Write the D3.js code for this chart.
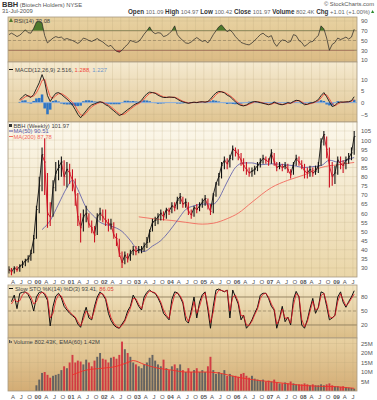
<!DOCTYPE html>
<html>
<head>
<meta charset="utf-8">
<script src="https://d3js.org/d3.v7.min.js"></script>
<style>
  body { margin: 0; background: #fff; }
  svg { display: block; }
</style>
</head>
<body>
<script>
// monthly readings, Feb 1999 .. Jul 2009
const firstMonth = new Date(1999, 1, 1);
const closes = [29,28,30,29,31,32,34,35,38,46, 62,75,92,88,60,58,74,82,85,88, 80,84,82,78,70,58,52,58,60,54, 52,48,58,60,58,56,54,54,48,46,
  38,33,37,35,38,40,39,40,40,42, 44,50,55,56,58,60,58,62,61,64, 63,67,69,65,66,61,59,63,62,64, 66,68,64,61,70,76,80,86,89,87,
  90,95,94,92,89,86,84,82,83,84, 86,88,90,89,88,93,88,85,86,85, 86,84,81,87,90,88,86,83,82,84, 82,83,86,99,103,95,86,80,82,89,
  87,86,89,90,93,101.97];
const highs = [31,30,31,31,32,34,35,37,40,48, 64,80,96,101,82,66,78,88,89,91, 89,88,87,84,79,71,60,62,64,60, 56,53,60,63,62,62,57,57,55,49,
  46,39,39,38,40,42,42,42,42,44, 47,51,57,58,60,62,61,63,63,66, 66,69,71,69,68,66,62,64,65,66, 68,70,68,65,71,77,82,88,91,90,
  92,97,96,95,93,90,88,85,85,86, 88,90,92,91,90,95,93,88,88,87, 88,87,84,88,92,91,89,87,85,86, 85,86,88,101,105,102,96,88,86,91,
  91,89,91,93,96,104.97];
const lows = [27,26,27,28,28,30,31,33,34,38, 46,60,72,70,52,53,58,72,78,80, 75,74,76,72,64,53,44,50,55,52, 49,44,48,56,55,53,50,51,46,42,
  36,30,32,33,34,37,37,38,38,39, 41,44,50,53,54,56,56,57,59,60, 61,62,65,63,63,59,57,58,60,61, 63,64,62,59,60,69,75,79,84,84,
  85,89,91,89,86,83,81,80,80,81, 83,85,87,87,86,87,86,83,84,83, 84,82,79,81,86,86,84,79,79,80, 80,81,82,86,97,90,74,75,76,81,
  84,82,84,87,89,92];

const ma50Dates = ['2000-02','2000-05','2000-08','2000-11','2001-01','2001-03','2001-06','2001-09','2001-11','2002-03','2002-07','2002-10','2002-12',
  '2003-03','2003-06','2003-09','2003-12','2004-03','2004-06','2004-09','2005-01','2005-04','2005-06','2005-08','2005-10','2005-12',
  '2006-03','2006-06','2006-09','2007-01','2007-06','2007-09','2008-01','2008-04','2008-07','2008-10','2009-01','2009-04','2009-07'];
const ma50 = [51,56,65,74,78,73,63,58,55,53,50,45,41, 39,42,45,50,56,62,64,65,65,68,74,80,85, 87.5,87.5,86.5,87,86.5,86,85,85.5,86,89,88,89,90.51];
const ma200Dates = ['2003-01','2003-06','2004-01','2004-06','2004-12','2005-04','2005-09','2006-01','2006-06','2007-01','2007-07','2008-01','2008-07','2009-01','2009-07'];
const ma200 = [58,57,56,55,54,54.5,57,60,66,74,78,81,85,86.5,87.78];

const rsi = [62,65,62,58,61,66,72,66,65,75, 88,90,86,60,45,50,55,58,56,57, 52,54,52,50,47,44,48,55,53,50, 48,51,54,50,47,42,38,40,33,28,
  26,30,37,42,50,48,46,48,55,63, 70,78,68,64,66,65,58,60,64,70, 80,62,55,50,45,44,47,52,56,52, 48,50,45,52,62,70,78,82,75,68,
  72,66,58,52,46,44,42,41,45,50, 56,62,65,60,57,60,45,38,46,51, 50,46,48,62,60,50,46,38,42,47, 48,55,60,80,74,55,30,42,46,55,
  52,54,57,53,57,73.08];

const macd = [null,null,null,null,1.3,2.5,3.5,2.8,2.2,3.5, 6,8.5,12,9,3,0.5,2.5,4,4.3,3.5, 2.5,1.5,0.4,-1,-3,-5,-6.5,-5,-3.5,-2,
  -1,-0.5,0,0.4,0,-0.9,-1.5,-2.5,-3.5,-4.5, -5.5,-5,-4,-3,-2.2,-1.2,-0.5,0,1,2.5, 3.8,4.5,4.3,4,3.2,2.6,2.2,2.2,2.4,2.3,
  2.2,1.5,0.8,0.3,0,-0.3,0,0.2,0,0.3, 0.4,0.2,0.5,1.5,3,4.2,4.8,4.6,4.2,3.2, 2.6,1.5,0.3,-0.7,-1.2,-1.4,-1,-0.3,0.2,0.5,
  0.3,0,-0.3,-0.6,-0.9,-0.5,0.2,-0.3,-0.8,-0.9, -0.5,0,-0.3,0.5,1,0.8,0,-0.9,-0.7,-0.2, 0,0.5,1.3,3,4.3,2.5,0.4,-1.7,-1.2,0,
  0.3,0.2,0.3,0.4,0.8,2.516];
const signal = [null,null,null,null,1,1.6,2.5,3,2.6,2.8, 4.2,6.5,9.5,10,6,2.5,1.8,3,3.8,3.9, 3.2,2.3,1.2,0.1,-1.5,-3.5,-5.2,-5.6,-4.5,-3,
  -1.8,-1,-0.4,0.1,0.2,-0.4,-1,-1.8,-2.8,-3.8, -4.8,-5.2,-4.8,-3.8,-2.8,-1.9,-1,-0.4,0.4,1.5, 2.9,3.9,4.3,4.2,3.7,3,2.5,2.3,2.3,2.3,
  2.3,1.9,1.2,0.6,0.2,-0.1,-0.1,0.1,0.1,0.2, 0.3,0.3,0.4,0.9,2,3.4,4.3,4.7,4.4,3.8, 3,2.1,1,-0.1,-0.8,-1.2,-1.2,-0.7,-0.2,0.3,
  0.4,0.2,-0.1,-0.4,-0.7,-0.7,-0.2,-0.1,-0.5,-0.8, -0.7,-0.3,-0.2,0.1,0.7,0.9,0.4,-0.4,-0.8,-0.5, -0.2,0.2,0.8,2,3.6,3.3,1.6,-0.5,-1.4,-0.6,
  0,0.2,0.3,0.3,0.6,1.288];
const hist = [null,null,null,null,0.3,0.9,1,-0.2,-0.4,0.7, 1.8,2,3.5,-2.5,-5,-3,0.7,1,0.5,-0.4, -0.7,-0.8,-0.8,-1.1,-1.5,-1.5,-1.3,0.6,1,1,
  0.8,0.5,0.4,0.3,-0.2,-0.5,-0.5,-0.7,-0.7,-0.7, -0.7,0.2,0.8,0.8,0.6,0.7,0.5,0.4,0.6,1, 0.9,0.6,0,-0.2,-0.5,-0.4,-0.3,-0.1,0.1,0,
  -0.1,-0.4,-0.4,-0.3,-0.2,-0.2,0.1,0.1,-0.1,0.1, 0.1,-0.1,0.1,0.6,1,0.8,0.5,-0.1,-0.2,-0.6, -0.4,-0.6,-0.7,-0.6,-0.4,-0.2,0.2,0.4,0.4,0.2,
  -0.1,-0.2,-0.2,-0.2,-0.2,0.2,0.4,-0.2,-0.3,-0.1, 0.2,0.3,-0.1,0.4,0.3,-0.1,-0.4,-0.5,0.1,0.3, 0.2,0.3,0.5,1,0.7,-0.8,-1.2,-1.2,0.2,0.6,
  0.3,0,0,0.1,0.2,1.227];

const stochK = [null,70,84,55,88,90,91,85,73,50, 80,90,91,85,73,18,60,82,88,78, 60,52,45,40,35,22,15,40,58,35, 31,60,80,91,85,75,45,30,20,15,
  13,22,31,50,60,84,73,60,52,80, 90,95,90,88,78,65,45,38,31,75, 91,89,80,67,30,24,50,80,35,69, 85,91,52,13,60,95,97,94,91,95,
  35,95,80,65,31,41,13,20,31,45, 58,84,88,88,77,60,52,13,35,60, 27,37,20,75,92,80,20,13,31,55, 77,45,58,91,88,60,31,35,41,80,
  91,69,58,70,80,93.41];
const stochD = [null,65,75,70,72,85,90,88,80,65, 70,85,90,88,78,35,45,72,85,82, 68,56,48,42,37,27,18,32,50,42, 33,52,74,87,87,78,55,36,24,17,
  14,19,28,43,56,77,76,64,55,72, 86,93,91,89,81,69,52,41,34,63, 85,89,83,71,40,27,42,70,45,60, 80,89,60,25,48,85,95,94,92,94,
  50,80,84,70,40,40,20,19,28,42, 54,77,86,88,80,65,54,22,32,54, 34,36,24,62,87,82,32,16,27,49, 71,52,56,83,88,67,38,35,40,70,
  87,74,61,67,77,86.05];

// volume in millions (typical weekly bar of the month)
const volume = [null,null,null,null,null,null,null,null,null,null, 3,6,9.5,10,8.5,7,8,8.5,9,11, 13,12,15,19,15,16,15.5,14,16.5,15,
  13,16,18,20,17,16.5,15,17.5,18,17, 19,26,22,20,18,15,14,13,12,14, 15,17.5,19,16,14,13,16.5,12,11,13, 14,12,14,11,10,12,10,11,12,10,
  11,10,13,18,11,9,10,9,11,8, 9,8,8,7.5,9,9.5,8,7,8,6.5, 6,5.5,6,5,5.5,5,6,4.5,4,4, 4.5,4,5,4,3.5,3.5,3.5,4,3.5,3,
  3.5,3,3,3.5,3,3.5,4,3,2.5,2.5, 2.2,2.5,2,1.8,1.6,1.2];
const volEmaDates = ['2001-01','2001-06','2001-12','2002-05','2002-09','2002-11','2003-03','2003-08','2004-01','2004-06','2005-01','2005-06',
  '2005-12','2006-06','2006-12','2007-06','2007-12','2008-06','2008-12','2009-04','2009-07'];
const volEma = [8.5,11,12,13,15,16,14,12,11,10,10,9.5,7.5,6,5,4,3,2.5,2.3,1.8,1.42];

const priceTicks = [30,35,40,45,50,55,60,65,70,75,80,85,90,95,100,105];
const rsiTicks = [10,30,50,70,90];
const macdTicks = [-5,0,5,10];
const stochTicks = [20,50,80];
const volTicks = [5,10,15,20,25];

const W = 377, H = 400, L = 8, R = 357;
const font = '"Liberation Sans", Arial, sans-serif';
const parseMonth = d3.timeParse('%Y-%m');
const dates = closes.map((_, i) => d3.timeDay.offset(d3.timeMonth.offset(firstMonth, i), 14));
const asMid = s => d3.timeDay.offset(parseMonth(s), 14);

const x = d3.scaleTime().domain([new Date(1999, 1, 5), new Date(2009, 7, 15)]).range([L, R]);
const step = x(dates[1]) - x(dates[0]);
const quarters = d3.timeMonth.every(3).range(x.domain()[0], x.domain()[1]);

const svg = d3.select('body').append('svg').attr('width', W).attr('height', H).style('font-family', font);
const defs = svg.append('defs');

function grad(id, c0, c1) {
  const g = defs.append('linearGradient').attr('id', id).attr('x1', 0).attr('y1', 0).attr('x2', 0).attr('y2', 1);
  g.append('stop').attr('offset', '0%').attr('stop-color', c0);
  g.append('stop').attr('offset', '100%').attr('stop-color', c1);
}

function makePanel(name, top, bottom, domain, ticks, fmt, c0, c1) {
  grad('g-' + name, c0, c1);
  defs.append('clipPath').attr('id', 'c-' + name).append('rect')
    .attr('x', L).attr('y', top).attr('width', R - L).attr('height', bottom - top);
  const y = d3.scaleLinear().domain(domain).range([bottom, top]);
  const bg = svg.append('g');
  bg.append('rect').attr('x', L).attr('y', top).attr('width', R - L).attr('height', bottom - top)
    .attr('fill', `url(#g-${name})`);
  bg.selectAll('.vg').data(quarters).join('line')
    .attr('x1', d => x(d)).attr('x2', d => x(d)).attr('y1', top).attr('y2', bottom)
    .attr('stroke', '#b8a27a').attr('stroke-opacity', 0.35).attr('stroke-width', 0.6);
  bg.selectAll('.hg').data(ticks).join('line')
    .attr('x1', L).attr('x2', R).attr('y1', d => y(d)).attr('y2', d => y(d))
    .attr('stroke', '#b8a27a').attr('stroke-opacity', 0.35).attr('stroke-width', 0.6);
  const plot = svg.append('g').attr('clip-path', `url(#c-${name})`);
  const ax = svg.append('g').attr('transform', `translate(${R + 2},0)`)
    .call(d3.axisRight(y).tickValues(ticks).tickSize(0).tickPadding(2).tickFormat(fmt));
  ax.select('.domain').remove();
  ax.selectAll('text').attr('font-size', 6).attr('fill', '#555').attr('font-family', font);
  const frame = () => svg.append('rect').attr('x', L).attr('y', top).attr('width', R - L).attr('height', bottom - top)
    .attr('fill', 'none').attr('stroke', '#a89a80').attr('stroke-width', 0.8);
  return { y, plot, top, bottom, frame };
}

function legend(items, px, py) {
  const t = svg.append('text').attr('x', px).attr('y', py).attr('font-size', 5.8).attr('fill', '#444');
  items.forEach(([s, c]) => t.append('tspan').attr('fill', c).text(s));
  return t;
}

const lineOf = (y, vals) => d3.line().defined(d => d != null)
  .x((d, i) => x(dates[i])).y(d => y(d))(vals);

// ---------- header ----------
const h1 = svg.append('text').attr('x', 2).attr('y', 6.5).attr('fill', '#333');
h1.append('tspan').attr('font-size', 7.5).attr('font-weight', 'bold').text('BBH');
h1.append('tspan').attr('font-size', 5.8).attr('fill', '#555').text(' (Biotech Holders) NYSE');
svg.append('text').attr('x', 2).attr('y', 13).attr('font-size', 5.8).attr('fill', '#555').text('31-Jul-2009');
svg.append('text').attr('x', 374).attr('y', 6).attr('text-anchor', 'end').attr('font-size', 5.8).attr('fill', '#555')
  .text('© StockCharts.com');
const stats = [['Open', '101.09'], ['High', '104.97'], ['Low', '100.42'], ['Close', '101.97'], ['Volume', '802.4K'], ['Chg', '+1.01 (+1.00%)']];
const st = svg.append('text').attr('x', 370).attr('y', 13.5).attr('text-anchor', 'end').attr('font-size', 5.8).attr('fill', '#333');
stats.forEach(([k, v], i) => {
  st.append('tspan').attr('font-weight', 'bold').attr('font-size', 6.3).text((i ? ' ' : '') + k);
  st.append('tspan').attr('fill', '#666').text(' ' + v);
});
svg.append('path').attr('d', 'M371,13 l1.6,-3 l1.6,3 z').attr('fill', '#2e8b2e');

// ---------- RSI ----------
const pR = makePanel('rsi', 17, 62, [5.9, 98.2], rsiTicks, d3.format('d'), '#e8d2a2', '#dbbb84');
defs.append('clipPath').attr('id', 'rsiHi').append('rect').attr('x', L).attr('y', pR.top).attr('width', R - L).attr('height', pR.y(70) - pR.top);
defs.append('clipPath').attr('id', 'rsiLo').append('rect').attr('x', L).attr('y', pR.y(30)).attr('width', R - L).attr('height', pR.bottom - pR.y(30));
[70, 30].forEach(v => pR.plot.append('line').attr('x1', L).attr('x2', R).attr('y1', pR.y(v)).attr('y2', pR.y(v))
  .attr('stroke', '#8c7a5c').attr('stroke-width', 0.8));
pR.plot.append('line').attr('x1', L).attr('x2', R).attr('y1', pR.y(50)).attr('y2', pR.y(50))
  .attr('stroke', '#8c7a5c').attr('stroke-width', 0.6).attr('stroke-dasharray', '3,2');
const rsiArea = base => d3.area().x((d, i) => x(dates[i])).y0(pR.y(base)).y1(d => pR.y(d));
pR.plot.append('path').attr('clip-path', 'url(#rsiHi)').attr('d', rsiArea(70)(rsi)).attr('fill', '#4f7a2c');
pR.plot.append('path').attr('clip-path', 'url(#rsiLo)').attr('d', rsiArea(30)(rsi)).attr('fill', '#c0303a');
pR.plot.append('path').attr('d', lineOf(pR.y, rsi)).attr('fill', 'none').attr('stroke', '#222').attr('stroke-width', 0.7);
pR.frame();
svg.append('path').attr('d', 'M9,22 l2,-4 l2,4 z').attr('fill', '#4f7a2c');
legend([['RSI(14) 73.08', '#444']], 14, 22.5);

// ---------- MACD ----------
const pM = makePanel('macd', 62, 122, [-8.3, 17.4], macdTicks, d3.format('d'), '#f5ead0', '#e0c592');
pM.plot.selectAll('rect.hb').data(d3.range(hist.length).filter(i => hist[i] != null)).join('rect')
  .attr('x', i => x(dates[i]) - step / 2).attr('width', step)
  .attr('y', i => Math.min(pM.y(0), pM.y(hist[i]))).attr('height', i => Math.abs(pM.y(hist[i]) - pM.y(0)))
  .attr('fill', '#2d74c4');
pM.plot.append('line').attr('x1', x(dates[4])).attr('x2', R).attr('y1', pM.y(0)).attr('y2', pM.y(0))
  .attr('stroke', '#8fb1dd').attr('stroke-width', 1);
pM.plot.append('path').attr('d', lineOf(pM.y, signal)).attr('fill', 'none').attr('stroke', '#f0483c').attr('stroke-width', 0.9);
pM.plot.append('path').attr('d', lineOf(pM.y, macd)).attr('fill', 'none').attr('stroke', '#111').attr('stroke-width', 0.9);
pM.frame();
svg.append('line').attr('x1', 9).attr('x2', 13).attr('y1', 69.5).attr('y2', 69.5).attr('stroke', '#111').attr('stroke-width', 1);
legend([['MACD(12,26,9) 2.516,', '#444'], [' 1.288,', '#f0483c'], [' 1.227', '#6f95c8']], 15, 71.5);

// ---------- Price ----------
const pP = makePanel('price', 122, 277, [25.07, 109.9], priceTicks, d3.format('d'), '#fcf8ec', '#ead6a8');
const maLine = (y, ds, vs) => d3.line().curve(d3.curveMonotoneX).x((d, i) => x(asMid(ds[i]))).y(d => y(d))(vs);
pP.plot.append('path').attr('d', maLine(pP.y, ma200Dates, ma200)).attr('fill', 'none').attr('stroke', '#f26a5e').attr('stroke-width', 0.9);
pP.plot.append('path').attr('d', maLine(pP.y, ma50Dates, ma50)).attr('fill', 'none').attr('stroke', '#5656a8').attr('stroke-width', 0.8);
const upColor = '#111', downColor = '#cc1122';
const dir = i => (i === 0 || closes[i] >= closes[i - 1]) ? upColor : downColor;
pP.plot.selectAll('line.seg').data(d3.range(1, closes.length)).join('line')
  .attr('x1', i => x(dates[i - 1])).attr('x2', i => x(dates[i]))
  .attr('y1', i => pP.y(closes[i - 1])).attr('y2', i => pP.y(closes[i]))
  .attr('stroke', dir).attr('stroke-width', 0.9);
pP.plot.selectAll('line.bar').data(d3.range(closes.length)).join('line')
  .attr('x1', i => x(dates[i])).attr('x2', i => x(dates[i]))
  .attr('y1', i => pP.y(lows[i])).attr('y2', i => pP.y(highs[i]))
  .attr('stroke', dir).attr('stroke-width', 1.1);
pP.plot.selectAll('line.tick').data(d3.range(closes.length)).join('line')
  .attr('x1', i => x(dates[i])).attr('x2', i => x(dates[i]) + 1.3)
  .attr('y1', i => pP.y(closes[i])).attr('y2', i => pP.y(closes[i]))
  .attr('stroke', dir).attr('stroke-width', 0.8);
pP.frame();
svg.append('rect').attr('x', 9).attr('y', 124).attr('width', 3).attr('height', 3).attr('fill', '#333');
legend([['BBH (Weekly) 101.97', '#444']], 13.5, 127.5);
svg.append('line').attr('x1', 9).attr('x2', 13).attr('y1', 131).attr('y2', 131).attr('stroke', '#5656a8');
legend([['MA(50) 90.51', '#5656a8']], 13.5, 133);
svg.append('line').attr('x1', 9).attr('x2', 13).attr('y1', 136.5).attr('y2', 136.5).attr('stroke', '#f26a5e');
legend([['MA(200) 87.78', '#f26a5e']], 13.5, 138.5);

// ---------- Slow stochastic ----------
const pS = makePanel('stoch', 285, 338, [-7.9, 105.7], stochTicks, d3.format('d'), '#f3e6c4', '#dbbd87');
[80, 20].forEach(v => pS.plot.append('line').attr('x1', L).attr('x2', R).attr('y1', pS.y(v)).attr('y2', pS.y(v))
  .attr('stroke', '#8c7a5c').attr('stroke-width', 0.8));
pS.plot.append('line').attr('x1', L).attr('x2', R).attr('y1', pS.y(50)).attr('y2', pS.y(50))
  .attr('stroke', '#8c7a5c').attr('stroke-width', 0.6).attr('stroke-dasharray', '3,2');
pS.plot.append('path').attr('d', lineOf(pS.y, stochK)).attr('fill', 'none').attr('stroke', '#111').attr('stroke-width', 1);
pS.plot.append('path').attr('d', lineOf(pS.y, stochD)).attr('fill', 'none').attr('stroke', '#e01020').attr('stroke-width', 0.8);
pS.frame();
svg.append('line').attr('x1', 9).attr('x2', 13).attr('y1', 288.5).attr('y2', 288.5).attr('stroke', '#111').attr('stroke-width', 1);
legend([['Slow STO %K(14) %D(3) 93.41,', '#444'], [' 86.05', '#e0483c']], 15, 290.5);

// ---------- Volume ----------
const pV = makePanel('vol', 338, 391, [0, 27.9], volTicks, d => d + 'M', '#e8d1a2', '#d3ac74');
pV.plot.selectAll('rect.v').data(d3.range(closes.length).filter(i => volume[i] != null)).join('rect')
  .attr('x', i => x(dates[i]) - step / 2 + 0.3).attr('width', step - 0.6)
  .attr('y', i => pV.y(volume[i])).attr('height', i => pV.y(0) - pV.y(volume[i]))
  .attr('fill', i => dir(i) === upColor ? '#55585c' : '#d02a3a').attr('fill-opacity', 0.88);
pV.plot.append('path').attr('d', maLine(pV.y, volEmaDates, volEma)).attr('fill', 'none').attr('stroke', '#f0302a').attr('stroke-width', 0.9);
pV.frame();
svg.append('rect').attr('x', 9).attr('y', 340).attr('width', 1.2).attr('height', 3).attr('fill', '#555');
svg.append('rect').attr('x', 10.6).attr('y', 341).attr('width', 1.2).attr('height', 2).attr('fill', '#555');
legend([['Volume 802.43K, EMA(60) 1.42M', '#444']], 13.5, 344);

// ---------- time labels ----------
const qLabel = d => d.getMonth() === 0 ? d3.timeFormat('%y')(d) : ({ 3: 'A', 6: 'J', 9: 'O' })[d.getMonth()];
[283.5, 398.5].forEach(yy => {
  svg.append('g').selectAll('text').data(quarters).join('text')
    .attr('x', d => x(d)).attr('y', yy).attr('text-anchor', 'middle')
    .attr('font-size', 6).attr('fill', '#555')
    .attr('font-weight', d => d.getMonth() === 0 ? 'bold' : 'normal')
    .text(qLabel);
});
</script>
</body>
</html>
